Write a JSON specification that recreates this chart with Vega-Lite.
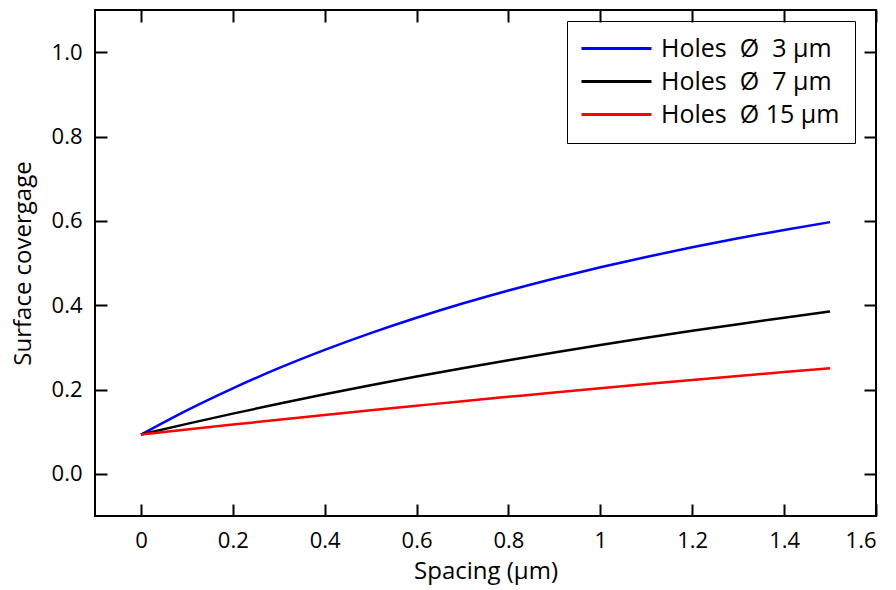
{
  "$schema": "https://vega.github.io/schema/vega-lite/v6.json",
  "autosize": "none",
  "width": 781,
  "height": 506,
  "padding": {"left": 95, "top": 10, "right": 20, "bottom": 74},
  "background": "white",
  "config": {
    "font": "Open Sans",
    "view": {"stroke": "black", "strokeWidth": 2},
    "axis": {"domain": false, "grid": false, "tickColor": "black", "tickWidth": 2, "tickSize": -12, "labelFontSize": 22, "labelColor": "black", "titleFontSize": 24, "titleFontWeight": "normal", "titleColor": "black", "labelFont": "Open Sans", "titleFont": "Open Sans"}
  },
  "data": {"values": [
    {"s": 0, "c": 0.0931, "series": "Holes\u00a0 Ø\u00a0 3 µm"},
    {"s": 0.1, "c": 0.1507, "series": "Holes\u00a0 Ø\u00a0 3 µm"},
    {"s": 0.2, "c": 0.2029, "series": "Holes\u00a0 Ø\u00a0 3 µm"},
    {"s": 0.3, "c": 0.2505, "series": "Holes\u00a0 Ø\u00a0 3 µm"},
    {"s": 0.4, "c": 0.2939, "series": "Holes\u00a0 Ø\u00a0 3 µm"},
    {"s": 0.5, "c": 0.3337, "series": "Holes\u00a0 Ø\u00a0 3 µm"},
    {"s": 0.6, "c": 0.3702, "series": "Holes\u00a0 Ø\u00a0 3 µm"},
    {"s": 0.7, "c": 0.4038, "series": "Holes\u00a0 Ø\u00a0 3 µm"},
    {"s": 0.8, "c": 0.4348, "series": "Holes\u00a0 Ø\u00a0 3 µm"},
    {"s": 0.9, "c": 0.4634, "series": "Holes\u00a0 Ø\u00a0 3 µm"},
    {"s": 1.0, "c": 0.4899, "series": "Holes\u00a0 Ø\u00a0 3 µm"},
    {"s": 1.1, "c": 0.5144, "series": "Holes\u00a0 Ø\u00a0 3 µm"},
    {"s": 1.2, "c": 0.5373, "series": "Holes\u00a0 Ø\u00a0 3 µm"},
    {"s": 1.3, "c": 0.5586, "series": "Holes\u00a0 Ø\u00a0 3 µm"},
    {"s": 1.4, "c": 0.5784, "series": "Holes\u00a0 Ø\u00a0 3 µm"},
    {"s": 1.5, "c": 0.5969, "series": "Holes\u00a0 Ø\u00a0 3 µm"},
    {"s": 0, "c": 0.0931, "series": "Holes\u00a0 Ø\u00a0 7 µm"},
    {"s": 0.1, "c": 0.1185, "series": "Holes\u00a0 Ø\u00a0 7 µm"},
    {"s": 0.2, "c": 0.1428, "series": "Holes\u00a0 Ø\u00a0 7 µm"},
    {"s": 0.3, "c": 0.1661, "series": "Holes\u00a0 Ø\u00a0 7 µm"},
    {"s": 0.4, "c": 0.1885, "series": "Holes\u00a0 Ø\u00a0 7 µm"},
    {"s": 0.5, "c": 0.2100, "series": "Holes\u00a0 Ø\u00a0 7 µm"},
    {"s": 0.6, "c": 0.2306, "series": "Holes\u00a0 Ø\u00a0 7 µm"},
    {"s": 0.7, "c": 0.2505, "series": "Holes\u00a0 Ø\u00a0 7 µm"},
    {"s": 0.8, "c": 0.2696, "series": "Holes\u00a0 Ø\u00a0 7 µm"},
    {"s": 0.9, "c": 0.2880, "series": "Holes\u00a0 Ø\u00a0 7 µm"},
    {"s": 1.0, "c": 0.3057, "series": "Holes\u00a0 Ø\u00a0 7 µm"},
    {"s": 1.1, "c": 0.3227, "series": "Holes\u00a0 Ø\u00a0 7 µm"},
    {"s": 1.2, "c": 0.3391, "series": "Holes\u00a0 Ø\u00a0 7 µm"},
    {"s": 1.3, "c": 0.3549, "series": "Holes\u00a0 Ø\u00a0 7 µm"},
    {"s": 1.4, "c": 0.3702, "series": "Holes\u00a0 Ø\u00a0 7 µm"},
    {"s": 1.5, "c": 0.3849, "series": "Holes\u00a0 Ø\u00a0 7 µm"},
    {"s": 0, "c": 0.0931, "series": "Holes\u00a0 Ø 15 µm"},
    {"s": 0.1, "c": 0.1051, "series": "Holes\u00a0 Ø 15 µm"},
    {"s": 0.2, "c": 0.1168, "series": "Holes\u00a0 Ø 15 µm"},
    {"s": 0.3, "c": 0.1283, "series": "Holes\u00a0 Ø 15 µm"},
    {"s": 0.4, "c": 0.1396, "series": "Holes\u00a0 Ø 15 µm"},
    {"s": 0.5, "c": 0.1507, "series": "Holes\u00a0 Ø 15 µm"},
    {"s": 0.6, "c": 0.1615, "series": "Holes\u00a0 Ø 15 µm"},
    {"s": 0.7, "c": 0.1722, "series": "Holes\u00a0 Ø 15 µm"},
    {"s": 0.8, "c": 0.1826, "series": "Holes\u00a0 Ø 15 µm"},
    {"s": 0.9, "c": 0.1929, "series": "Holes\u00a0 Ø 15 µm"},
    {"s": 1.0, "c": 0.2029, "series": "Holes\u00a0 Ø 15 µm"},
    {"s": 1.1, "c": 0.2128, "series": "Holes\u00a0 Ø 15 µm"},
    {"s": 1.2, "c": 0.2225, "series": "Holes\u00a0 Ø 15 µm"},
    {"s": 1.3, "c": 0.2320, "series": "Holes\u00a0 Ø 15 µm"},
    {"s": 1.4, "c": 0.2413, "series": "Holes\u00a0 Ø 15 µm"},
    {"s": 1.5, "c": 0.2505, "series": "Holes\u00a0 Ø 15 µm"}
  ]},
  "layer": [
    {
      "mark": {"type": "line", "strokeWidth": 2.5, "interpolate": "monotone"},
      "encoding": {
        "x": {"field": "s", "type": "quantitative", "scale": {"domain": [-0.1, 1.6], "nice": false, "zero": false},
          "axis": {"orient": "bottom", "title": "Spacing (µm)", "values": [0, 0.2, 0.4, 0.6, 0.8, 1, 1.2, 1.4, 1.6], "format": "~g", "labelPadding": 26, "titlePadding": 8}},
        "y": {"field": "c", "type": "quantitative", "scale": {"domain": [-0.1, 1.1], "nice": false, "zero": false},
          "axis": {"orient": "left", "title": "Surface covergage", "values": [0, 0.2, 0.4, 0.6, 0.8, 1.0], "format": ".1f", "labelPadding": 25, "titlePadding": 16}},
        "color": {"field": "series", "type": "nominal",
          "scale": {"domain": ["Holes\u00a0 Ø\u00a0 3 µm", "Holes\u00a0 Ø\u00a0 7 µm", "Holes\u00a0 Ø 15 µm"], "range": ["#0000ff", "#000000", "#ff0000"]},
          "legend": {"title": null, "orient": "none", "legendX": 472, "legendY": 11, "symbolType": "M-1.86,0H8.14", "symbolSize": 196, "symbolStrokeWidth": 3, "labelFontSize": 25, "labelFont": "Open Sans", "labelColor": "black", "labelLimit": 0, "strokeColor": "black", "padding": 15, "rowPadding": 7, "labelOffset": 54}}
      }
    },
    {
      "mark": {"type": "line", "opacity": 0},
      "encoding": {
        "x": {"field": "s", "type": "quantitative", "axis": {"orient": "top", "title": null, "labels": false, "values": [0, 0.2, 0.4, 0.6, 0.8, 1, 1.2, 1.4, 1.6]}},
        "y": {"field": "c", "type": "quantitative", "axis": {"orient": "right", "title": null, "labels": false, "values": [0, 0.2, 0.4, 0.6, 0.8, 1.0]}},
        "detail": {"field": "series"}
      }
    }
  ],
  "resolve": {"axis": {"x": "independent", "y": "independent"}}
}
